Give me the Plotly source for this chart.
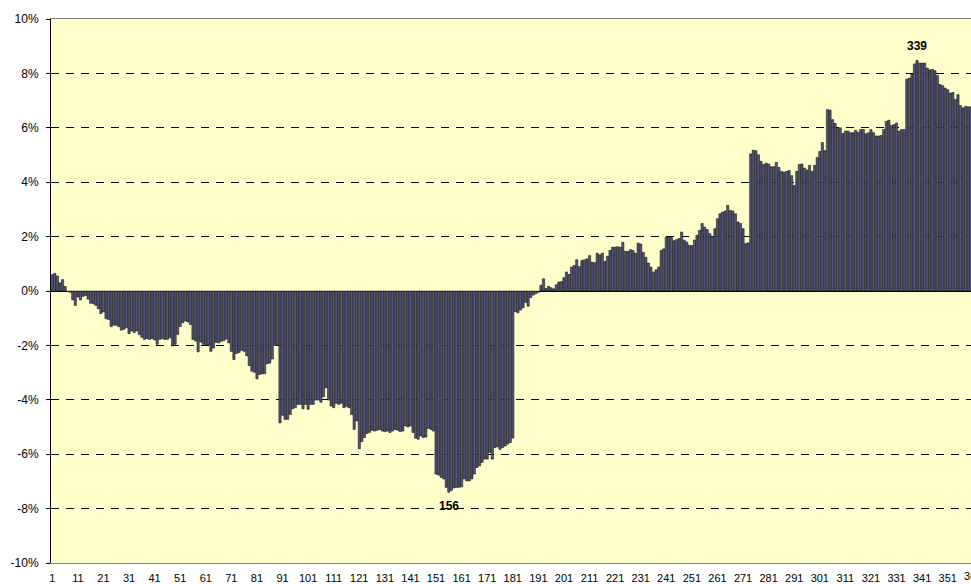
import plotly.graph_objects as go

# daily values in % (bars 1..360 visible)
vals_001_060 = [
    0.6, 0.65, 0.55, 0.3, 0.42, 0.17, -0.02, -0.05, -0.33, -0.53,
    -0.22, -0.33, -0.2, -0.17, -0.3, -0.45, -0.47, -0.53, -0.65, -0.83,
    -0.77, -1.02, -1.05, -1.31, -1.26, -1.26, -1.31, -1.44, -1.41, -1.35,
    -1.57, -1.47, -1.53, -1.47, -1.6, -1.7, -1.78, -1.75, -1.78, -1.75,
    -1.8, -1.96, -1.78, -1.75, -1.78, -1.78, -1.72, -2.02, -1.96, -1.6,
    -1.31, -1.17, -1.1, -1.14, -1.23, -1.78, -1.84, -2.24, -1.88, -1.96,
]
vals_061_120 = [
    -2.0, -1.98, -2.22, -2.1, -1.89, -1.91, -1.85, -1.83, -1.77, -1.91,
    -2.22, -2.52, -2.3, -2.26, -2.18, -2.22, -2.38, -2.74, -2.95, -2.99,
    -3.23, -3.07, -3.05, -3.04, -2.68, -2.65, -2.5, -2.0, -2.0, -4.85,
    -4.57, -4.72, -4.72, -4.54, -4.33, -4.29, -4.17, -4.17, -4.33, -4.17,
    -4.35, -4.17, -4.17, -4.01, -4.01, -4.09, -3.89, -3.56, -4.01, -4.23,
    -4.29, -4.13, -4.17, -4.13, -4.29, -4.25, -4.29, -4.54, -5.09, -4.78,
]
vals_121_180 = [
    -5.8, -5.54, -5.39, -5.24, -5.2, -5.12, -5.15, -5.12, -5.09, -5.15,
    -5.17, -5.15, -5.2, -5.15, -5.09, -5.12, -5.17, -5.15, -4.96, -5.0,
    -4.96, -5.2, -5.41, -5.45, -5.33, -5.39, -5.37, -5.05, -5.09, -5.15,
    -6.73, -6.77, -6.85, -6.91, -7.22, -7.4, -7.33, -7.24, -7.22, -7.22,
    -7.2, -6.91, -6.98, -6.98, -6.91, -6.73, -6.49, -6.43, -6.3, -6.18,
    -6.18, -5.94, -6.18, -5.76, -5.73, -5.82, -5.76, -5.7, -5.63, -5.57,
]
vals_181_240 = [
    -5.41, -0.76, -0.8, -0.7, -0.62, -0.42, -0.56, -0.24, -0.15, -0.1,
    -0.05, 0.21, 0.45, 0.09, 0.17, 0.12, 0.08, 0.23, 0.33, 0.35,
    0.49, 0.7, 0.61, 0.88, 0.94, 1.15, 0.9, 1.12, 1.15, 1.18,
    1.3, 1.06, 1.04, 1.39, 1.33, 1.39, 1.09, 1.28, 1.49, 1.61,
    1.61, 1.63, 1.61, 1.79, 1.46, 1.46, 1.52, 1.49, 1.39, 1.76,
    1.73, 1.42, 1.24, 1.03, 0.88, 0.7, 0.78, 0.88, 1.49, 1.55,
]
vals_241_300 = [
    1.98, 2.0, 1.97, 1.85, 1.89, 1.93, 2.17, 1.87, 1.8, 1.68,
    1.67, 1.87, 2.05, 2.23, 2.48, 2.35, 2.26, 2.11, 2.01, 2.29,
    2.66, 2.84, 2.9, 2.94, 3.15, 2.96, 2.94, 2.84, 2.54, 2.48,
    2.29, 1.74, 1.77, 5.04, 5.18, 5.16, 5.01, 4.77, 4.65, 4.7,
    4.67, 4.57, 4.57, 4.73, 4.55, 4.4, 4.37, 4.4, 4.43, 4.24,
    3.88, 4.4, 4.65, 4.67, 4.52, 4.45, 4.62, 4.4, 4.62, 4.91,
]
vals_301_360 = [
    5.13, 5.46, 5.16, 6.67, 6.65, 6.3, 6.16, 6.0, 6.0, 5.79,
    5.88, 5.88, 5.82, 5.82, 5.91, 5.84, 5.94, 5.94, 5.78, 5.82,
    5.94, 5.82, 5.7, 5.7, 5.72, 5.94, 6.24, 6.28, 6.09, 6.12,
    6.18, 5.88, 5.94, 5.94, 7.79, 7.83, 7.99, 8.35, 8.48, 8.38,
    8.38, 8.38, 8.2, 8.13, 8.15, 8.1, 7.92, 7.59, 7.55, 7.46,
    7.4, 7.28, 7.3, 7.04, 7.22, 6.82, 6.73, 6.79, 6.77, 6.77,
]

values = vals_001_060 + vals_061_120 + vals_121_180 + vals_181_240 + vals_241_300 + vals_301_360
days = list(range(1, len(values) + 1))

x_ticks = list(range(1, 352, 10))
y_ticks = [-10, -8, -6, -4, -2, 0, 2, 4, 6, 8, 10]
y_labels = [f"{v}%" for v in y_ticks]

x_min, x_max = 0.5, 360.1

fig = go.Figure(go.Bar(
    x=days, y=values,
    marker=dict(color="#56567a", line=dict(color="black", width=0.5)),
    hoverinfo="x+y",
))

# label the highest and the lowest day
peak_day = values.index(max(values)) + 1
low_day = values.index(min(values)) + 1
fig.add_annotation(x=peak_day, y=max(values), text=f"<b>{peak_day}</b>", showarrow=False,
                   yanchor="bottom", yshift=5, font=dict(size=12))
fig.add_annotation(x=low_day, y=min(values), text=f"<b>{low_day}</b>", showarrow=False,
                   yanchor="top", yshift=-5, font=dict(size=12))
# next category label, cut by the right edge as in the original
fig.add_annotation(x=(361 - x_min) / (x_max - x_min), xref="paper", y=0, yref="paper",
                   xanchor="center", yanchor="top", yshift=-5, text="361",
                   showarrow=False, font=dict(size=11))

fig.update_layout(
    width=971, height=584,
    margin=dict(l=51, r=0, t=19, b=21, autoexpand=False),
    paper_bgcolor="white", plot_bgcolor="#FFFFCC",
    font=dict(family="Liberation Sans, Arial, sans-serif", size=11, color="black"),
    bargap=0.12, showlegend=False,
)
fig.update_xaxes(
    range=[x_min, x_max], tickmode="array", tickvals=x_ticks,
    ticks="", showgrid=False, zeroline=False,
    showline=True, linecolor="#808080", linewidth=1, mirror=True,
    tickfont=dict(size=11), ticklabelstandoff=5, automargin=False,
)
fig.update_yaxes(
    range=[-10, 10], tickmode="array", tickvals=y_ticks, ticktext=y_labels,
    showgrid=True, gridcolor="black", gridwidth=1, griddash="8px,7px",
    zeroline=True, zerolinecolor="black", zerolinewidth=1,
    showline=True, linecolor="black", linewidth=1,
    ticks="outside", ticklen=4, tickcolor="black",
    tickfont=dict(size=12), ticklabelstandoff=5, automargin=False,
)

# drop the default page margin so the figure sits at the window's corner
fig.write_html("out.html", config={"displayModeBar": False},
               post_script="document.body.style.margin='0';document.body.style.overflow='hidden';")
